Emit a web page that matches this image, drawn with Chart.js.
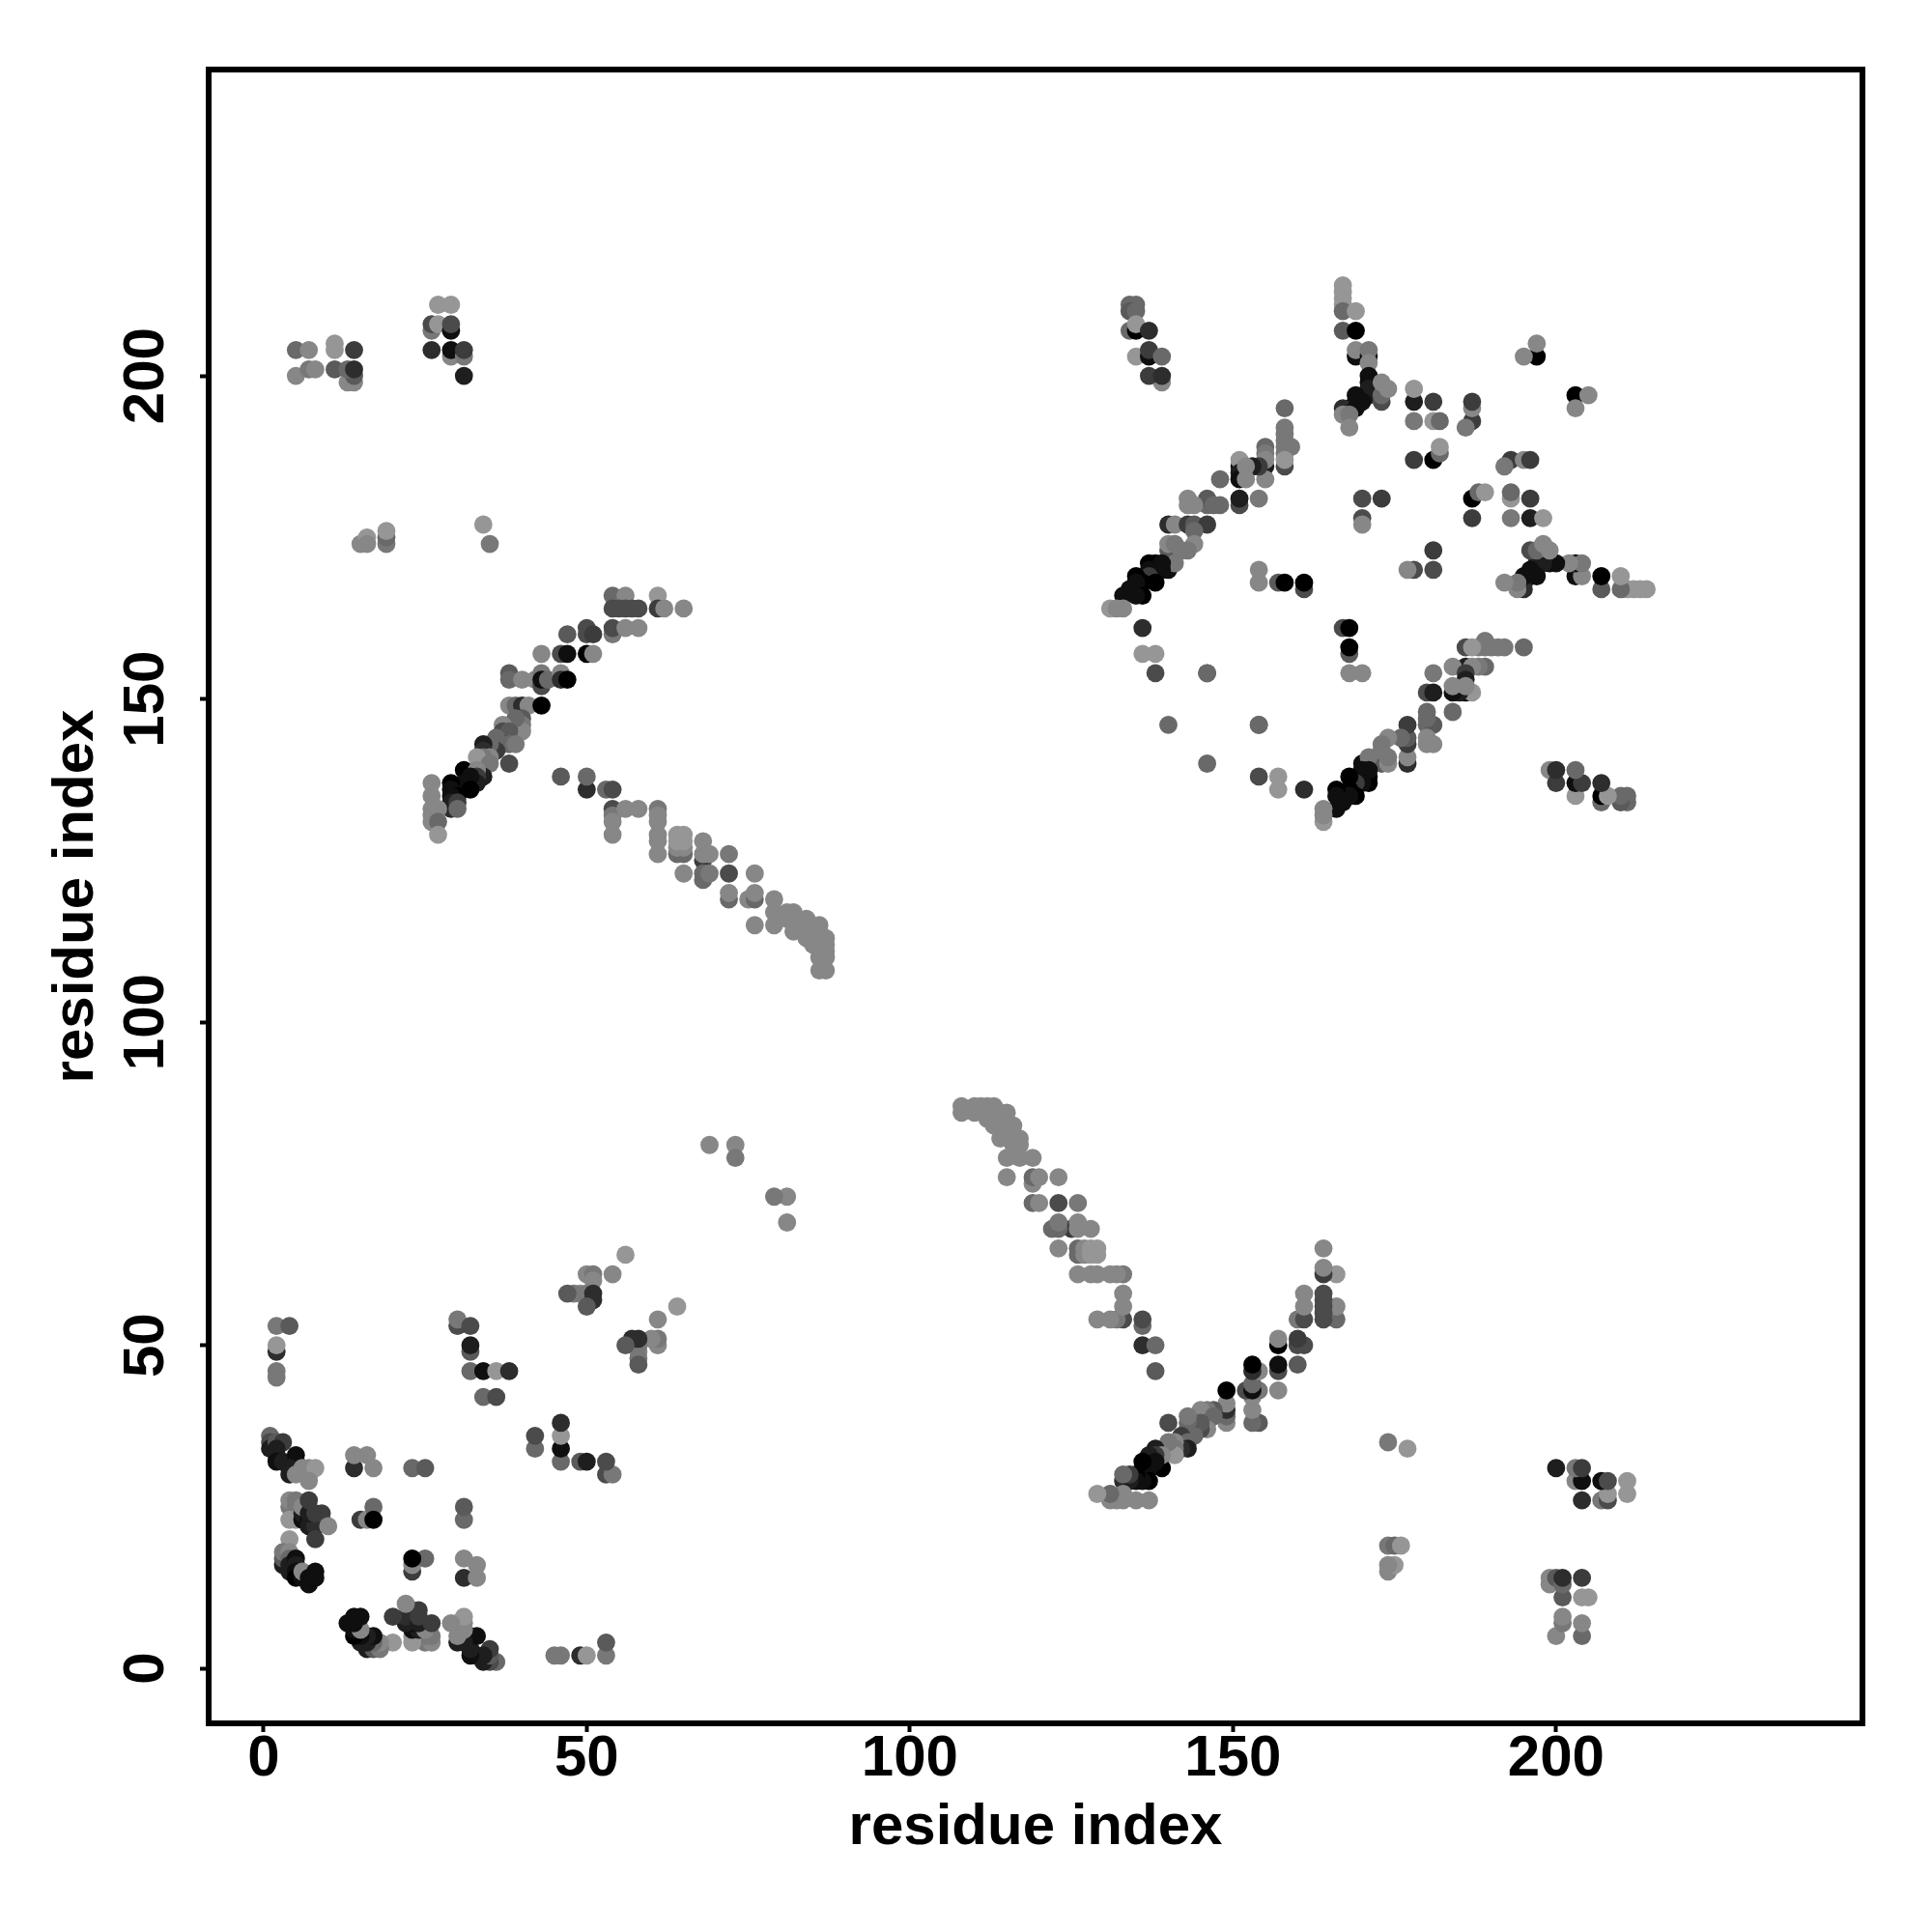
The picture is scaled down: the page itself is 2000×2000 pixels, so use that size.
<!DOCTYPE html>
<html>
<head>
<meta charset="utf-8">
<title>residue contact map</title>
<script src="https://cdn.jsdelivr.net/npm/chart.js@4/dist/chart.umd.min.js"></script>
<style>
  html, body { margin: 0; padding: 0; background: #fff; }
  canvas { display: block; }
</style>
</head>
<body>
<canvas id="contacts" width="2000" height="2000"></canvas>
<script>
// residue contacts as [i, j, score], i < j. score 0 (weak) .. 10 (strong)
// the map is symmetric so (j, i) gets drawn as well
var tickValues = [0, 50, 100, 150, 200];
var axisLabel = 'residue index';

var nearContacts = [
  [56,64,0],[54,61,1],[50,61,1],[51,61,2],[51,60,1],[49,58,1],[48,58,2],[47,58,4],[50,58,2],[51,58,7],[51,57,7],[50,56,4],
  [2,53,2],[4,53,4],[2,49,7],[2,50,0],[2,46,2],[2,45,2],
  [30,53,5],[30,54,2],[32,53,5],[32,49,4],[32,50,8],[32,46,3],[34,46,9],[36,46,0],[38,46,7],[34,42,3],[36,42,5],
  [1,36,3],[1,35,5],[1,34,8],[2,35,4],[3,35,6],[2,34,8],[2,33,8],[2,32,9],[3,32,8],[5,33,9],[5,32,9],[4,31,8],[4,30,8],
  [6,31,1],[5,30,1],[7,30,1],[7,31,1],[8,31,0],[7,29,1],
  [14,31,7],[14,33,1],[16,33,1],[17,31,1],[23,31,3],[25,31,4],
  [4,25,2],[4,26,1],[5,25,2],[5,26,2],[4,23,0],[5,23,0],
  [6,23,9],[9,23,3],[6,24,8],[6,25,1],
  [7,23,9],[7,22,8],[8,22,7],[7,24,8],[7,26,6],[8,24,6],[9,24,6],[10,22,1],[8,20,6],[4,20,0],
  [15,23,6],[16,23,1],[17,25,3],[17,23,10],
  [3,16,8],[3,17,4],[3,18,2],[4,18,1],[4,17,3],[4,16,8],[4,15,8],[5,17,9],[5,16,8],[5,15,9],[5,14,10],[6,14,9],[6,15,1],[7,13,9],[7,14,9],[8,15,9],[8,14,9]
];

var helixBand = [
  [54,166,3],[56,166,1],[61,166,0],
  [54,164,5],[55,164,5],[56,164,5],[57,164,5],[58,164,5],[61,164,6],[62,164,1],[65,164,1],
  [54,160,2],[54,161,5],[56,161,1],[58,161,1],
  [47,160,4],[50,161,5],[50,160,5],[51,160,6],
  [43,157,1],[46,157,5],[47,157,9],[50,157,10],[51,157,1],
  [38,154,4],[38,153,3],[40,153,1],[42,153,1],[43,154,2],[43,152,5],[43,153,9],[44,153,3],[46,154,1],[46,153,7],[47,153,10],
  [38,149,1],[39,149,3],[40,149,7],[41,149,1],[43,149,10],
  [40,147,4],[40,146,2],[40,145,1],[39,147,3],[38,146,3],[37,146,1],[37,145,5],[38,145,4],
  [37,143,9],[38,143,3],[39,143,2],[36,144,3],[36,142,6],[35,143,3],[34,143,8],[34,142,7],[35,141,1],[34,141,2],[33,141,0],[38,140,5],[35,140,2],
  [34,138,8],[31,139,10],[33,139,1],[33,138,6],[33,137,8],[32,138,9],[31,137,9],[32,136,10],[29,137,10],[29,136,9],[30,135,10],[29,135,9],
  [29,133,7],[29,134,8],[30,134,6],[30,133,3],
  [26,137,1],[26,135,1],[26,133,1],[26,132,1],[26,131,1],[27,133,1],[27,131,3],[27,129,0]
];

var sheetBand = [
  [46,138,4],[50,136,7],[50,138,3],[53,136,3],[54,136,5],[54,133,5],[54,132,2],[54,131,1],[54,129,1],[56,133,1],[58,133,1],
  [61,133,2],[61,132,1],[61,131,1],[61,129,1],[61,128,1],[61,126,1],
  [64,126,3],[65,126,3],[64,127,1],[65,127,1],[64,128,0],[65,128,0],[64,129,0],[65,129,0],[65,123,1],
  [68,125,6],[68,128,1],[68,126,1],[69,126,1],[68,123,3],[68,122,3],[69,123,2],
  [72,126,2],[72,123,5],[72,119,3],[72,120,1],[75,119,1],[76,123,1],[76,119,3],[76,120,1],[76,115,1],
  [79,119,1],[79,117,1],[79,115,1],[81,117,1],[81,116,1],[82,117,1],[82,116,1],[82,114,1],[84,116,1],[84,115,1],[84,113,1],
  [85,113,1],[85,112,1],[86,115,1],[86,114,1],[86,112,1],[86,110,1],[86,108,1],[87,113,1],[87,112,1],[87,111,1],[87,110,1],[87,108,1],
  [69,81,1],[73,81,1],[73,79,2]
];

var longRange = [
  [5,204,3],[7,204,1],[11,205,0],[11,204,0],[14,204,6],[5,200,1],[7,201,2],[8,201,1],[11,201,4],[13,199,1],[14,199,1],[14,200,4],[13,201,3],[14,201,7],
  [27,211,0],[29,211,0],[26,207,2],[26,208,5],[27,208,0],[29,207,9],[29,208,5],[26,204,7],[29,203,1],[29,204,9],[31,203,2],[31,204,6],[31,200,8],
  [34,177,0],[35,174,2],[15,174,1],[16,175,0],[16,174,1],[19,174,2],[19,175,3],[19,176,0]
];

var upperBand = [
  [134,211,3],[135,211,3],[134,210,4],[135,210,3],[134,207,3],[135,207,10],[135,208,0],[137,207,7],[135,203,0],[137,203,9],[137,204,6],[139,203,3],[139,199,1],[137,200,6],[139,200,7],
  [167,214,0],[167,213,0],[167,212,0],[167,211,0],[167,210,3],[169,210,0],[167,207,4],[169,207,10],
  [169,203,9],[169,204,1],[171,203,9],[171,204,2],[171,202,1],
  [171,200,9],[171,199,9],[171,198,8],[171,197,8],[169,197,9],[169,196,9],[168,195,9],[167,195,7],[169,195,9],[170,196,9],[173,196,5],[173,197,3],[173,199,1],[174,198,1],[167,194,1],[168,194,2],[168,192,1],
  [178,196,8],[178,198,0],[181,196,6],[178,193,2],[181,193,0],[182,193,3],[178,187,6],[181,187,10],[182,188,3],[182,189,0],
  [187,193,6],[187,195,1],[187,196,6],[186,192,2],
  [197,203,10],[195,203,1],[197,205,1],
  [158,195,3],[158,192,2],[158,191,2],[158,190,2],[158,189,2],[159,189,2],[158,188,2],[158,186,5],[158,187,0],
  [155,186,8],[155,189,3],[155,188,2],[155,187,1],[155,184,1],[154,186,6],[153,186,8],
  [151,186,9],[151,187,0],[151,185,8],[151,184,9],[152,186,1],[152,184,1],[148,184,3],
  [151,180,5],[151,181,8],[154,181,2],
  [143,181,1],[143,180,1],[146,180,3],[146,181,4],[144,180,1],[147,180,3],[148,180,3],
  [140,177,7],[141,177,1],[143,177,6],[144,177,4],[146,177,6],[144,176,3],
  [140,173,4],[140,174,1],[141,174,2],[144,174,1],[143,173,2],[142,173,2],[140,170,9],[141,171,2],[138,171,10],[137,171,10],[139,170,9],[139,171,9],[137,170,9],
  [137,169,6],[138,168,10],[136,168,10],[135,169,10],[135,168,9],[136,166,10],[134,167,9],[133,166,9],[135,166,9],
  [131,164,0],[132,164,1],[133,164,1],
  [136,161,7],[136,157,0],[138,157,0],[138,154,5],[146,154,4],[140,146,3],[154,146,3],
  [154,170,1],[154,168,1],[157,168,4],[158,168,10],[161,167,5],[161,168,10],
  [170,181,5],[173,181,6],[170,178,5],[170,177,1]
];

var allContacts = nearContacts.concat(helixBand, sheetBand, longRange, upperBand);

var xs = [], ys = [], greys = [];
allContacts.forEach(function (c) {
  var g = 150 - c[2] * 15;
  var col = 'rgb(' + g + ',' + g + ',' + g + ')';
  xs.push(c[0]); ys.push(c[1]); greys.push(col);
  xs.push(c[1]); ys.push(c[0]); greys.push(col);
});

var framePlugin = {
  id: 'frame',
  afterDraw: function (chart) {
    var a = chart.chartArea, c = chart.ctx;
    c.save();
    c.strokeStyle = '#000';
    c.lineWidth = 6;
    c.strokeRect(a.left, a.top, a.right - a.left, a.bottom - a.top);
    c.restore();
  }
};

var tickFont = { family: '"Liberation Sans"', size: 60, weight: 'bold', lineHeight: 1 };

var ctx = document.getElementById('contacts').getContext('2d');
var chart = new Chart(ctx, {
  type: 'scatter',
  data: {
    datasets: [{
      label: 'contacts',
      data: xs.map(function (x, n) { return { x: x, y: ys[n] }; }),
      pointRadius: 9.4,
      pointBorderWidth: 0,
      pointBackgroundColor: greys
    }]
  },
  options: {
    responsive: false,
    animation: false,
    layout: { padding: { top: 72, right: 72, left: 0, bottom: 0 } },
    plugins: { legend: { display: false }, tooltip: { enabled: false } },
    scales: {
      x: {
        min: -8.5,
        max: 247.4,
        afterBuildTicks: function (s) { s.ticks = tickValues.map(function (v) { return { value: v }; }); },
        afterFit: function (s) { s.height = 216; },
        border: { display: false },
        grid: { drawOnChartArea: false, tickLength: 9, tickWidth: 4, tickColor: '#000' },
        ticks: { font: tickFont, color: '#000', padding: -2, maxRotation: 0, minRotation: 0, autoSkip: false },
        title: { display: true, text: axisLabel, color: '#000', font: tickFont, padding: { top: 0, bottom: 78 } }
      },
      y: {
        min: -8.5,
        max: 247.4,
        afterBuildTicks: function (s) { s.ticks = tickValues.map(function (v) { return { value: v }; }); },
        afterFit: function (s) { s.width = 216; },
        border: { display: false },
        grid: { drawOnChartArea: false, tickLength: 9, tickWidth: 4, tickColor: '#000' },
        ticks: { font: tickFont, color: '#000', padding: 4, minRotation: 90, maxRotation: 90, crossAlign: 'center', autoSkip: false },
        title: { display: true, text: axisLabel, color: '#000', font: tickFont, padding: { top: 49, bottom: 0 } }
      }
    }
  },
  plugins: [framePlugin]
});
</script>
</body>
</html>
